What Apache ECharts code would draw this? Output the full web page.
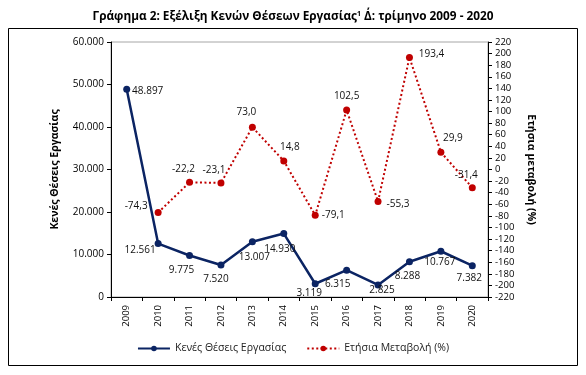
<!DOCTYPE html>
<html>
<head>
<meta charset="utf-8">
<script src="https://cdn.jsdelivr.net/npm/echarts@6/dist/echarts.min.js"></script>
<style>
  html, body { margin: 0; padding: 0; background: #fff; }
  #chart { width: 586px; height: 375px; }
</style>
</head>
<body>
<div id="chart"></div>
<script>
// data
var years = ['2009', '2010', '2011', '2012', '2013', '2014', '2015', '2016', '2017', '2018', '2019', '2020']
var vacancies = [48897, 12561, 9775, 7520, 13007, 14930, 3119, 6315, 2825, 8288, 10767, 7382]
var annualChange = [null, -74.3, -22.2, -23.1, 73.0, 14.8, -79.1, 102.5, -55.3, 193.4, 29.9, -31.4]

// label offsets (centre of text relative to point)
var blueOffsets = [[21, 2], [-18, 7], [-8, 15], [-5, 14], [2, 15], [-4, 16], [-6, 9], [-9, 14], [4, 5], [-2, 14], [-1, 11], [-3, 13]]
var redOffsets = [[0, 0], [-22, -6], [-6, -13], [-7, -13], [-6, -15], [6, -14], [18, 0], [0, -14], [20, 3], [22, -3], [12, -14], [-6, -13]]

var FONT = 'Open Sans'
var BLUE = '#0b2463'
var RED = '#c00000'

function grNum(v) {
  return String(v).replace(/\B(?=(\d{3})+(?!\d))/g, '.')
}
function grDec(v) {
  return v.toFixed(1).replace('.', ',')
}

var chart = echarts.init(document.getElementById('chart'))

chart.setOption({
  animation: false,
  textStyle: { fontFamily: FONT },
  title: {
    text: 'Γράφημα 2: Εξέλιξη Κενών Θέσεων Εργασίας{s|1} Δ΄: τρίμηνο 2009 - 2020',
    left: 'center',
    top: 5,
    textStyle: {
      fontFamily: FONT,
      fontSize: 11.8,
      fontWeight: 'bold',
      color: '#000',
      rich: {
        s: { fontSize: 7, fontWeight: 'bold', verticalAlign: 'top', padding: [0, 0, 6, 0] }
      }
    }
  },
  graphic: [{
    type: 'rect',
    shape: { x: 8.5, y: 28.5, width: 569, height: 337 },
    style: { fill: 'none', stroke: '#000', lineWidth: 1 },
    silent: true
  }],
  legend: {
    bottom: 16,
    left: 'center',
    itemWidth: 32,
    itemHeight: 7,
    itemGap: 20,
    textStyle: { fontFamily: FONT, fontSize: 10.5, color: '#222' },
    data: ['Κενές Θέσεις Εργασίας', 'Ετήσια Μεταβολή (%)']
  },
  grid: {
    left: 111,
    right: 98,
    top: 42,
    bottom: 78,
    show: true,
    borderColor: '#a6a6a6',
    borderWidth: 1
  },
  xAxis: {
    type: 'category',
    data: years,
    boundaryGap: true,
    axisLine: { lineStyle: { color: '#000', width: 1 } },
    axisTick: { show: true, length: 4, lineStyle: { color: '#000' } },
    axisLabel: { rotate: 90, color: '#000', fontSize: 9.5, margin: 8 }
  },
  yAxis: [{
    type: 'value',
    min: 0,
    max: 60000,
    interval: 10000,
    name: 'Κενές Θέσεις Εργασίας',
    nameLocation: 'middle',
    nameGap: 50,
    nameTextStyle: { fontFamily: FONT, fontSize: 10.5, fontWeight: 'bold', color: '#000' },
    axisLine: { show: true, lineStyle: { color: '#000' } },
    axisTick: { show: true, length: 4, lineStyle: { color: '#000' } },
    splitLine: { show: false },
    axisLabel: { color: '#000', fontSize: 10, margin: 7, formatter: grNum }
  }, {
    type: 'value',
    min: -220,
    max: 220,
    interval: 20,
    name: 'Ετήσια μεταβολή (%)',
    nameLocation: 'middle',
    nameGap: 36,
    nameRotate: 270,
    nameTextStyle: { fontFamily: FONT, fontSize: 10.5, fontWeight: 'bold', color: '#000' },
    axisLine: { show: true, lineStyle: { color: '#000' } },
    axisTick: { show: true, length: 4, lineStyle: { color: '#000' } },
    splitLine: { show: false },
    axisLabel: { color: '#000', fontSize: 9.5, margin: 7 }
  }],
  series: [{
    name: 'Κενές Θέσεις Εργασίας',
    type: 'line',
    yAxisIndex: 0,
    symbol: 'circle',
    symbolSize: 7,
    itemStyle: { color: BLUE },
    lineStyle: { color: BLUE, width: 2.5 },
    data: vacancies.map(function (v, i) {
      return {
        value: v,
        label: { offset: blueOffsets[i] }
      }
    }),
    label: {
      show: true,
      position: 'inside',
      color: '#111',
      fontSize: 10,
      formatter: function (p) { return grNum(p.value) }
    },
    z: 3
  }, {
    name: 'Ετήσια Μεταβολή (%)',
    type: 'line',
    yAxisIndex: 1,
    symbol: 'circle',
    symbolSize: 7,
    connectNulls: false,
    itemStyle: { color: RED },
    lineStyle: { color: RED, width: 2, type: [2, 2.5] },
    data: annualChange.map(function (v, i) {
      return {
        value: v,
        label: { offset: redOffsets[i] }
      }
    }),
    label: {
      show: true,
      position: 'inside',
      color: '#111',
      fontSize: 10,
      formatter: function (p) { return p.value == null ? '' : grDec(p.value) }
    },
    z: 4
  }]
})
</script>
</body>
</html>
